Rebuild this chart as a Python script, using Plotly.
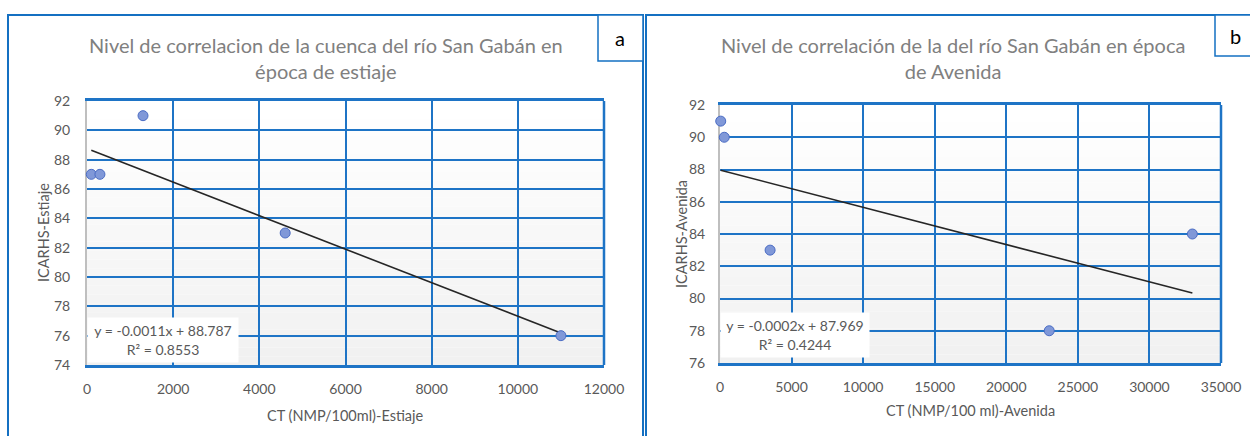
import numpy as np
import plotly.graph_objects as go

W, H = 1250, 436

# ---- data ----
ct_estiaje = [100, 300, 1300, 4600, 11000]
icarhs_estiaje = [87, 87, 91, 83, 76]
ct_avenida = [50, 300, 3500, 23000, 33000]
icarhs_avenida = [91, 90, 83, 78, 84]

title_a = "Nivel de correlacion de la cuenca del río San Gabán en<br>época de estiaje"
title_b = "Nivel de correlación de la del río San Gabán en época<br>de Avenida"
xtitle_a = "CT (NMP/100ml)-Estiaje"
ytitle_a = "ICARHS-Estiaje"
xtitle_b = "CT (NMP/100 ml)-Avenida"
ytitle_b = "ICARHS-Avenida"
eq_a = "y = -0.0011x + 88.787<br>R² = 0.8553"
eq_b = "y = -0.0002x + 87.969<br>R² = 0.4244"

FONT = "Lato, 'Open Sans', sans-serif"
BLUE = "#1470C2"
GRID = "#1E74C6"
TICK = "#595959"


def px(x):
    return x / W


def py(y):
    return 1 - y / H


fig = go.Figure()

for xs, ys, xa, ya in [(ct_estiaje, icarhs_estiaje, "x", "y"),
                       (ct_avenida, icarhs_avenida, "x2", "y2")]:
    slope, intercept = np.polyfit(xs, ys, 1)
    tx = np.array([min(xs), max(xs)], dtype=float)
    fig.add_trace(go.Scatter(x=tx, y=slope * tx + intercept, mode="lines",
                             line=dict(color="#262626", width=1.6),
                             xaxis=xa, yaxis=ya, showlegend=False, hoverinfo="skip"))
    fig.add_trace(go.Scatter(x=xs, y=ys, mode="markers",
                             marker=dict(size=10, color="#8098D8",
                                         line=dict(color="#4A6CC4", width=1)),
                             xaxis=xa, yaxis=ya, showlegend=False, cliponaxis=False))

axis_common = dict(zeroline=False, showgrid=True, gridcolor=GRID, gridwidth=2,
                   tickfont=dict(family=FONT, size=14, color=TICK),
                   ticks="outside", tickcolor="rgba(0,0,0,0)", tickformat="d",
                   layer="below traces", automargin=False)
xline = dict(showline=True, mirror=True, linecolor=GRID, linewidth=2.5)
yline = dict(showline=True, mirror=False, linecolor="#BFBFBF", linewidth=2)

fig.update_layout(
    width=W, height=H, autosize=False,
    margin=dict(l=0, r=0, t=0, b=0, pad=0),
    paper_bgcolor="white", plot_bgcolor="rgba(0,0,0,0)",
    font=dict(family=FONT),
    xaxis=dict(domain=[px(87), px(604)], range=[0, 12000], dtick=2000,
               anchor="y", ticklen=9, **axis_common, **xline),
    yaxis=dict(domain=[py(365), py(101)], range=[74, 92], dtick=2,
               anchor="x", ticklen=12, **axis_common, **yline),
    xaxis2=dict(domain=[px(720), px(1221)], range=[0, 35000], dtick=5000,
                anchor="y2", ticklen=9, **axis_common, **xline),
    yaxis2=dict(domain=[py(363), py(105)], range=[76, 92], dtick=2,
                anchor="x2", ticklen=10, **axis_common, **yline),
)

shapes = []
n = 30
for xr, yr in [("x domain", "y domain"), ("x2 domain", "y2 domain")]:
    for i in range(n):
        f = i / (n - 1)
        c = int(round(255 - (255 - 241) * (1 - f)))
        shapes.append(dict(type="rect", xref=xr, yref=yr, x0=0, x1=1,
                           y0=i / n, y1=(i + 1) / n, fillcolor=f"rgb({c},{c},{c})",
                           line=dict(width=0), layer="below"))
    shapes.append(dict(type="line", xref=xr, yref=yr, x0=1, x1=1, y0=0, y1=1,
                       line=dict(color=GRID, width=2.5), layer="above"))

# panel borders
shapes.append(dict(type="rect", xref="paper", yref="paper",
                   x0=px(8), x1=px(643), y0=py(445), y1=py(15),
                   line=dict(color=BLUE, width=2)))
shapes.append(dict(type="rect", xref="paper", yref="paper",
                   x0=px(646), x1=px(1255), y0=py(445), y1=py(15),
                   line=dict(color=BLUE, width=2)))
shapes.append(dict(type="rect", xref="paper", yref="paper",
                   x0=px(598), x1=px(643), y0=py(61), y1=py(15),
                   fillcolor="white", line=dict(color=BLUE, width=1.5)))
shapes.append(dict(type="rect", xref="paper", yref="paper",
                   x0=px(1215), x1=px(1255), y0=py(56), y1=py(15),
                   fillcolor="white", line=dict(color=BLUE, width=1.5)))


def note(text, x, y, size, color=TICK, **kw):
    d = dict(text=text, x=px(x), y=py(y), xref="paper", yref="paper",
             showarrow=False, xanchor="center", yanchor="middle",
             font=dict(family=FONT, size=size, color=color))
    d.update(kw)
    return d


ann = [
    note(title_a, 326, 58, 20, "#808080"),
    note(title_b, 953, 58, 20, "#808080"),
    note(xtitle_a, 345, 415, 14.5),
    note(xtitle_b, 970, 410, 14.5),
    note(ytitle_a, 44, 233, 14.5, textangle=-90),
    note(ytitle_b, 681, 234, 14.5, textangle=-90),
    note(eq_a, 163, 340, 14, bgcolor="white", width=148, height=42),
    note(eq_b, 795, 335, 14, bgcolor="white", width=146, height=42),
    note("a", 620, 38, 20, "#000000"),
    note("b", 1235, 36, 20, "#000000"),
]

fig.update_layout(shapes=shapes, annotations=ann)
fig.write_html("out.html", config={"displayModeBar": False},
               post_script="document.body.style.margin='0';")
